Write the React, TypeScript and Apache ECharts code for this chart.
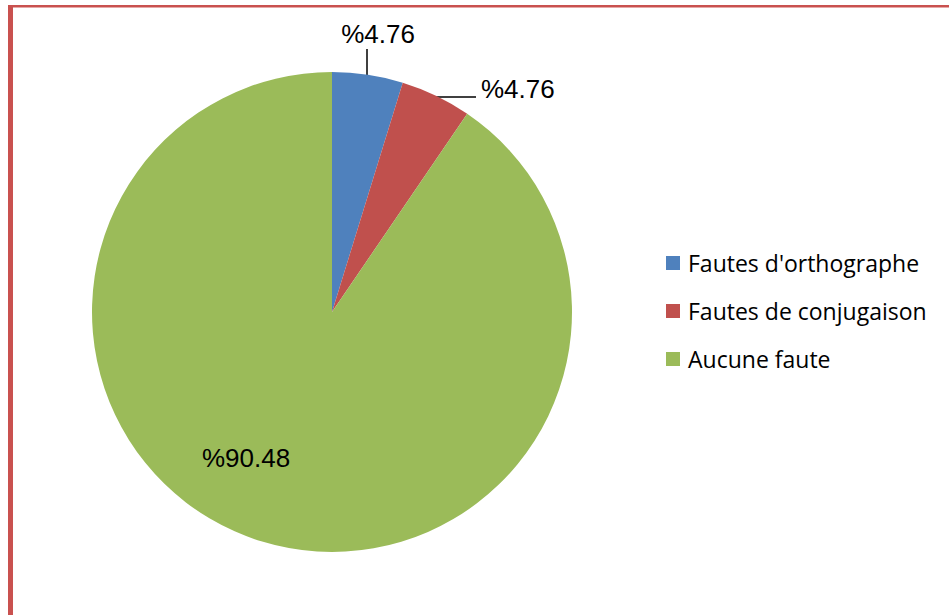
import React, { useEffect, useRef } from "react";
import * as echarts from "echarts";

const categories = ["Fautes d'orthographe", "Fautes de conjugaison", "Aucune faute"];
const counts = [1, 1, 19];
const colors = ["#4F81BD", "#C0504D", "#9BBB59"];

export default function App() {
  const ref = useRef<HTMLDivElement>(null);
  useEffect(() => {
    if (!ref.current) return;
    const chart = echarts.init(ref.current, null, { renderer: "svg" });
    const labelPos: any[] = [
      { x: 378, y: 34, align: "center", verticalAlign: "middle", labelLinePoints: [[367, 75], [367, 62], [367, 49]] },
      { x: 481, y: 89, align: "left", verticalAlign: "middle", labelLinePoints: [[436, 97], [456, 97], [476, 97]] },
      { x: 246, y: 458, align: "center", verticalAlign: "middle" },
    ];
    chart.setOption({
      animation: false,
      backgroundColor: "#ffffff",
      graphic: [
        { type: "rect", shape: { x: 8, y: 5, width: 960, height: 2 }, style: { fill: "#C9514F" }, z: 10 },
        { type: "rect", shape: { x: 8, y: 7, width: 960, height: 1 }, style: { fill: "#E6A8A7" }, z: 10 },
        { type: "rect", shape: { x: 8, y: 5, width: 5, height: 620 }, style: { fill: "#C9514F" }, z: 10 },
      ],
      legend: {
        orient: "vertical",
        left: 666,
        top: 250,
        padding: 0,
        itemWidth: 14,
        itemHeight: 14,
        itemGap: 22,
        icon: "rect",
        data: categories,
        textStyle: {
          fontFamily: "'Open Sans', 'Noto Sans', sans-serif",
          fontSize: 23,
          lineHeight: 26,
          color: "#000000",
          padding: [0, 0, 0, 3],
        },
      },
      series: [
        {
          type: "pie",
          center: [332, 312],
          radius: 240,
          startAngle: 90,
          clockwise: true,
          avoidLabelOverlap: false,
          label: {
            show: true,
            position: "outside",
            formatter: (p: any) => "%" + p.percent.toFixed(2),
            fontFamily: "'Liberation Sans', Arial, sans-serif",
            fontSize: 26,
            color: "#000000",
          },
          labelLine: { show: true, lineStyle: { color: "#000000", width: 1.5 } },
          labelLayout: (p: any) => labelPos[p.dataIndex],
          data: categories.map((name, i) => ({
            name,
            value: counts[i],
            itemStyle: { color: colors[i] },
            ...(i === 2 ? { labelLine: { show: false } } : {}),
          })),
        },
      ],
    });
    return () => chart.dispose();
  }, []);
  return (
    <div
      ref={ref}
      style={{ position: "fixed", left: 0, top: 0, width: 949, height: 615 }}
    />
  );
}
